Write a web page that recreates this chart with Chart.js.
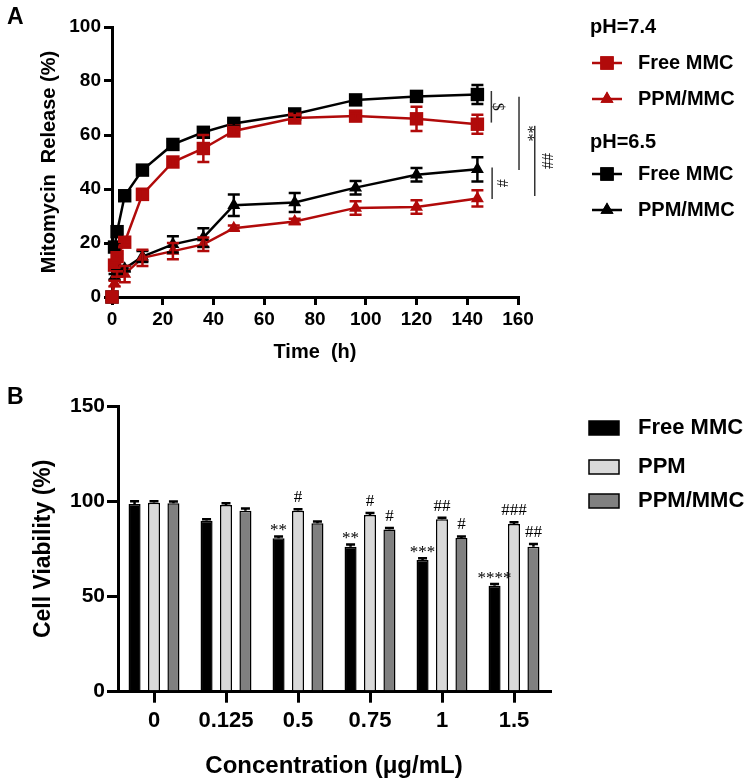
<!DOCTYPE html>
<html>
<head>
<meta charset="utf-8">
<script src="https://cdn.jsdelivr.net/npm/chart.js@4"></script>
<style>
  html, body { margin: 0; padding: 0; background: #fff; }
  #wrap { position: relative; width: 750px; height: 781px; }
  #release { position: absolute; left: 0; top: 0; }
  #viability { position: absolute; left: 0; top: 370px; }
</style>
</head>
<body>
<div id="wrap">
  <canvas id="release" width="750" height="370"></canvas>
  <canvas id="viability" width="750" height="411"></canvas>
</div>
<script>
// ---- panel A: release over time ----
const timeH = [0, 1, 2, 5, 12, 24, 36, 48, 72, 96, 120, 144];

const free74 = [0, 11.8, 15, 20.3, 38, 50, 55, 61.5, 66.3, 67, 66, 64];
const free74Sd = [0, 1, 1, 1, 2, 1.5, 5, 1.5, 1, 1, 4.5, 3.5];
const ppm74 = [0, 5, 8.5, 8.5, 14.5, 17, 19.5, 25.5, 28, 33, 33.3, 36.5];
const ppm74Sd = [0, 1, 1, 3, 3, 3, 2.5, 1, 1, 2.5, 2.5, 3];
const free65 = [0, 18.5, 24.2, 37.5, 47, 56.5, 61, 64.3, 67.8, 73, 74.3, 75];
const free65Sd = [0, 1, 1, 1, 1, 1, 1, 1, 1, 1, 1, 3.5];
const ppm65 = [0, 7.5, 9.5, 10.5, 15, 19.5, 22, 34, 35, 40.5, 45.3, 47.3];
const ppm65Sd = [0, 1, 1, 1, 2, 3, 3.5, 4, 3.5, 2.5, 2.5, 4.5];

// significance brackets at the right end (x in hours, spans in %)
const bracketsA = [
  { x: 149.5, from: 76.3, to: 64.6, text: '$', tx: 152 },
  { x: 149.8, from: 48, to: 36.3, text: '#', tx: 153.4 },
  { x: 160.4, from: 74.2, to: 47, text: '**', tx: 163.7 },
  { x: 166.6, from: 63.4, to: 37.4, text: '##', tx: 171 }
];

// ---- panel B: cell viability ----
const concLabels = ['0', '0.125', '0.5', '0.75', '1', '1.5'];
const viabFree = [98.5, 89.8, 80.5, 76.1, 69.1, 55.6];
const viabFreeSd = [1.5, 0.8, 1, 1.2, 1, 1];
const viabPpm = [99.2, 98, 95, 92.8, 90.5, 88];
const viabPpmSd = [0.8, 1, 0.8, 1, 0.8, 1];
const viabPpmMmc = [98.9, 95, 88.4, 85.2, 80.7, 76.1];
const viabPpmMmcSd = [1, 1.2, 1, 0.8, 0.8, 1.5];
const sigFree = ['', '', '**', '**', '***', '****'];
const sigPpm = ['', '', '#', '#', '##', '###'];
const sigPpmMmc = ['', '', '', '#', '#', '##'];

const RED = '#b10a0a';
const SANS = "'Liberation Sans', Arial, sans-serif";
const SERIF = "'Liberation Serif', 'Times New Roman', serif";

function lineSet(label, vals, sd, color, shape, radius) {
  return {
    label: label,
    data: timeH.map((t, i) => ({ x: t, y: vals[i] })),
    sd: sd,
    borderColor: color,
    backgroundColor: color,
    pointStyle: shape,
    pointRadius: radius,
    pointHoverRadius: radius,
    pointBorderWidth: 0,
    borderWidth: 2.5,
    tension: 0,
    clip: false
  };
}

const errorBarsA = {
  id: 'errorBarsA',
  afterDatasetsDraw(chart) {
    const ctx = chart.ctx, ys = chart.scales.y;
    for (let i = chart.data.datasets.length - 1; i >= 0; i--) {
      const ds = chart.data.datasets[i];
      const meta = chart.getDatasetMeta(i);
      ctx.save();
      ctx.strokeStyle = ds.borderColor;
      ctx.lineWidth = 2.5;
      meta.data.forEach((pt, j) => {
        const sd = ds.sd[j];
        if (!sd) return;
        const v = ds.data[j].y;
        const top = ys.getPixelForValue(v + sd), bot = ys.getPixelForValue(v - sd);
        ctx.beginPath();
        ctx.moveTo(pt.x, top); ctx.lineTo(pt.x, bot);
        ctx.moveTo(pt.x - 6, top); ctx.lineTo(pt.x + 6, top);
        ctx.moveTo(pt.x - 6, bot); ctx.lineTo(pt.x + 6, bot);
        ctx.stroke();
      });
      ctx.restore();
    }
  }
};

const extrasA = {
  id: 'extrasA',
  afterDraw(chart) {
    const ctx = chart.ctx, xs = chart.scales.x, ys = chart.scales.y;
    ctx.save();
    // brackets
    bracketsA.forEach(b => {
      const x = xs.getPixelForValue(b.x);
      ctx.strokeStyle = '#333';
      ctx.lineWidth = 1.5;
      ctx.beginPath();
      ctx.moveTo(x, ys.getPixelForValue(b.from));
      ctx.lineTo(x, ys.getPixelForValue(b.to));
      ctx.stroke();
      const ty = ys.getPixelForValue((b.from + b.to) / 2);
      ctx.save();
      ctx.translate(xs.getPixelForValue(b.tx), ty);
      ctx.rotate(Math.PI / 2);
      ctx.fillStyle = '#111';
      ctx.font = '16px ' + SERIF;
      ctx.textAlign = 'center';
      ctx.textBaseline = 'middle';
      ctx.fillText(b.text, 0, 0);
      ctx.restore();
    });
    // panel letter
    ctx.fillStyle = '#000';
    ctx.font = 'bold 23px ' + SANS;
    ctx.textAlign = 'left';
    ctx.textBaseline = 'alphabetic';
    ctx.fillText('A', 7, 24);
    // legend
    const items = [
      { head: 'pH=7.4', y: 27 },
      { label: 'Free MMC', y: 63, ds: 0 },
      { label: 'PPM/MMC', y: 99, ds: 1 },
      { head: 'pH=6.5', y: 142 },
      { label: 'Free MMC', y: 174, ds: 2 },
      { label: 'PPM/MMC', y: 210, ds: 3 }
    ];
    ctx.textBaseline = 'middle';
    items.forEach(it => {
      if (it.head) {
        ctx.fillStyle = '#000';
        ctx.font = 'bold 20px ' + SANS;
        ctx.fillText(it.head, 590, it.y);
        return;
      }
      const ds = chart.data.datasets[it.ds];
      ctx.strokeStyle = ds.borderColor;
      ctx.lineWidth = 2.5;
      ctx.beginPath();
      ctx.moveTo(592, it.y); ctx.lineTo(622, it.y);
      ctx.stroke();
      ctx.fillStyle = ds.backgroundColor;
      Chart.helpers.drawPoint(ctx, { pointStyle: ds.pointStyle, radius: ds.pointRadius, rotation: 0, borderWidth: 0 }, 607, it.y);
      ctx.fill();
      ctx.fillStyle = '#000';
      ctx.font = 'bold 20px ' + SANS;
      ctx.fillText(it.label, 638, it.y);
    });
    ctx.restore();
  }
};

new Chart(document.getElementById('release'), {
  type: 'line',
  data: {
    datasets: [
      lineSet('Free MMC pH 7.4', free74, free74Sd, RED, 'rect', 9.5),
      lineSet('PPM/MMC pH 7.4', ppm74, ppm74Sd, RED, 'triangle', 7.5),
      lineSet('Free MMC pH 6.5', free65, free65Sd, '#000', 'rect', 9.5),
      lineSet('PPM/MMC pH 6.5', ppm65, ppm65Sd, '#000', 'triangle', 7.5)
    ]
  },
  options: {
    responsive: false,
    animation: false,
    events: [],
    layout: { padding: { left: 0, top: 27, right: 232, bottom: 0 } },
    plugins: { legend: { display: false }, tooltip: { enabled: false } },
    scales: {
      x: {
        type: 'linear', min: 0, max: 160,
        ticks: { stepSize: 20, color: '#000', font: { family: SANS, size: 19, weight: 'bold' }, padding: 3, maxRotation: 0 },
        grid: { drawOnChartArea: false, color: '#000', lineWidth: 3, tickLength: 8 },
        border: { color: '#000', width: 3 },
        title: { display: true, text: 'Time  (h)', color: '#000', font: { family: SANS, size: 20, weight: 'bold' }, padding: { top: 0, bottom: 6 } },
        afterFit(s) { s.height = 73; }
      },
      y: {
        min: 0, max: 100,
        ticks: { stepSize: 20, color: '#000', font: { family: SANS, size: 19, weight: 'bold' }, padding: 3 },
        grid: { drawOnChartArea: false, color: '#000', lineWidth: 3, tickLength: 8 },
        border: { color: '#000', width: 3 },
        title: { display: true, text: 'Mitomycin  Release (%)', color: '#000', font: { family: SANS, size: 20, weight: 'bold' }, padding: { top: 37, bottom: 0 } },
        afterFit(s) { s.width = 112; }
      }
    }
  },
  plugins: [errorBarsA, extrasA]
});

// ---- panel B ----
const barExtrasB = {
  id: 'barExtrasB',
  afterDatasetsDraw(chart) {
    const ctx = chart.ctx, ys = chart.scales.y;
    ctx.save();
    chart.data.datasets.forEach((ds, i) => {
      const meta = chart.getDatasetMeta(i);
      meta.data.forEach((bar, j) => {
        const top = ys.getPixelForValue(ds.data[j] + ds.sd[j]);
        const base = ys.getPixelForValue(ds.data[j]);
        ctx.strokeStyle = '#000';
        ctx.lineWidth = 2.5;
        ctx.beginPath();
        ctx.moveTo(bar.x, base); ctx.lineTo(bar.x, top);
        ctx.moveTo(bar.x - 4.5, top); ctx.lineTo(bar.x + 4.5, top);
        ctx.stroke();
        if (ds.sig[j]) {
          ctx.fillStyle = '#000';
          ctx.font = '17px ' + SERIF;
          ctx.textAlign = 'center';
          ctx.textBaseline = 'bottom';
          const star = ds.sig[j].indexOf('*') >= 0;
          ctx.fillText(ds.sig[j], bar.x, top - (star ? -3 : 3));
        }
      });
    });
    ctx.restore();
  },
  afterDraw(chart) {
    const ctx = chart.ctx;
    ctx.save();
    ctx.fillStyle = '#000';
    ctx.font = 'bold 23px ' + SANS;
    ctx.textBaseline = 'alphabetic';
    ctx.fillText('B', 7, 34);
    const ys = [58, 97, 131];
    chart.data.datasets.forEach((ds, i) => {
      ctx.fillStyle = ds.backgroundColor;
      ctx.fillRect(589, ys[i] - 7, 30, 14);
      ctx.strokeStyle = '#000';
      ctx.lineWidth = 1.5;
      ctx.strokeRect(589, ys[i] - 7, 30, 14);
      ctx.fillStyle = '#000';
      ctx.font = 'bold 22px ' + SANS;
      ctx.textBaseline = 'middle';
      ctx.fillText(ds.label, 638, ys[i]);
    });
    ctx.restore();
  }
};

new Chart(document.getElementById('viability'), {
  type: 'bar',
  data: {
    labels: concLabels,
    datasets: [
      { label: 'Free MMC', data: viabFree, sd: viabFreeSd, sig: sigFree, backgroundColor: '#000', borderColor: '#000', borderWidth: 1.5 },
      { label: 'PPM', data: viabPpm, sd: viabPpmSd, sig: sigPpm, backgroundColor: '#d9d9d9', borderColor: '#000', borderWidth: 1.5 },
      { label: 'PPM/MMC', data: viabPpmMmc, sd: viabPpmMmcSd, sig: sigPpmMmc, backgroundColor: '#808080', borderColor: '#000', borderWidth: 1.5 }
    ]
  },
  options: {
    responsive: false,
    animation: false,
    events: [],
    layout: { padding: { left: 0, top: 36, right: 200, bottom: 0 } },
    datasets: { bar: { categoryPercentage: 0.81, barPercentage: 0.62 } },
    plugins: { legend: { display: false }, tooltip: { enabled: false } },
    scales: {
      x: {
        ticks: { color: '#000', font: { family: SANS, size: 22, weight: 'bold' }, padding: 5, maxRotation: 0 },
        grid: { offset: false, drawOnChartArea: false, color: '#000', lineWidth: 3, tickLength: 11 },
        border: { color: '#000', width: 3 },
        title: { display: true, text: 'Concentration (μg/mL)', color: '#000', font: { family: SANS, size: 24, weight: 'bold' }, padding: { top: 0, bottom: 0 } },
        afterFit(s) { s.height = 89.3; }
      },
      y: {
        min: 0, max: 150,
        ticks: { stepSize: 50, color: '#000', font: { family: SANS, size: 21, weight: 'bold' }, padding: 2 },
        grid: { drawOnChartArea: false, color: '#000', lineWidth: 3, tickLength: 11 },
        border: { color: '#000', width: 3 },
        title: { display: true, text: 'Cell Viability (%)', color: '#000', font: { family: SANS, size: 23, weight: 'bold' }, padding: { top: 30, bottom: 0 } },
        afterFit(s) { s.width = 118; }
      }
    }
  },
  plugins: [barExtrasB]
});
</script>
</body>
</html>
